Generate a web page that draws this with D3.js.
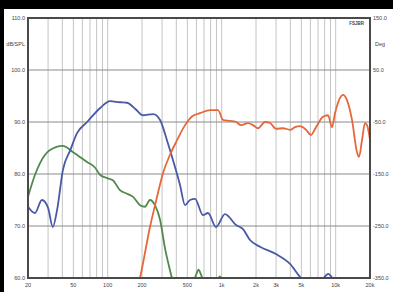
<!DOCTYPE html>
<html>
<head>
<meta charset="utf-8">
<script src="https://cdn.jsdelivr.net/npm/d3@7"></script>
<style>
  body { margin: 0; background: #000; }
  svg { display: block; }
  .tick-label { font-family: 'Liberation Sans', Arial, sans-serif; font-size: 5.5px; fill: #444; }
</style>
</head>
<body>
<div id="chart"></div>
<script>
// woofer (blue)
let wooferFreq = [20, 23, 26.5, 30, 33, 36, 40.5, 47, 54, 66, 86, 105, 128, 148, 175, 204, 250, 288, 331, 352, 431, 477, 527, 583, 686, 759, 891, 1069, 1336, 1538, 1771, 2168, 2994, 3977, 4864, 5500, 7000, 8000, 8600, 9200, 10000, 12000]
let wooferDb = [73.7, 72.5, 75.0, 73.5, 69.8, 73.1, 80.8, 84.6, 87.9, 90.0, 92.7, 94.0, 93.8, 93.7, 92.5, 91.3, 91.5, 90.4, 86.5, 84.6, 77.9, 74.0, 75.0, 75.2, 72.1, 72.5, 69.8, 72.3, 70.2, 69.4, 67.3, 66.0, 64.6, 62.7, 60.2, 59.0, 58.5, 60.2, 60.8, 60.2, 58.5, 57.0]

// bass / port (green)
let bassFreq = [20, 23, 25.5, 31.2, 40.5, 49.7, 66, 77, 86, 99, 111, 128, 148, 167, 192, 212, 235, 260, 288, 319, 352, 374, 420, 520, 600, 625, 660, 720, 900, 960, 1020, 1200]
let bassDb = [75.6, 79.8, 82.1, 84.6, 85.4, 84.2, 82.3, 81.3, 79.8, 79.2, 78.8, 76.9, 76.2, 75.6, 74.0, 73.7, 75.0, 74.0, 71.2, 65.6, 61.5, 59.2, 56.0, 56.5, 60.8, 61.6, 60.6, 58.0, 58.5, 60.3, 59.5, 56.0]

// tweeter (orange)
let tweeterFreq = [180, 192, 235, 271, 306, 352, 406, 477, 560, 646, 790, 928, 1028, 1182, 1336, 1478, 1702, 1882, 2084, 2400, 2656, 2994, 3452, 3977, 4396, 4864, 5492, 6072, 6718, 7740, 8570, 9280, 9860, 10480, 11600, 12570, 13900, 15380, 16020, 17020, 18070, 18840, 20000]
let tweeterDb = [57.5, 60.0, 69.8, 75.6, 80.2, 83.7, 86.5, 89.4, 91.2, 91.7, 92.3, 92.3, 90.4, 90.2, 90.0, 89.4, 89.8, 89.4, 88.8, 90.0, 89.8, 88.7, 88.8, 88.5, 89.0, 89.2, 88.5, 87.5, 89.0, 91.0, 91.3, 89.0, 91.7, 93.7, 95.2, 94.2, 90.4, 84.2, 83.3, 86.5, 89.8, 89.4, 86.5]

let leftTicks = [110, 100, 90, 80, 70, 60]
let leftLabels = ['110.0', '100.0', '90.0', '80.0', '70.0', '60.0']
let rightLabels = ['150.0', '50.0', '-50.0', '-150.0', '-250.0', '-350.0']
let xTicks = [20, 50, 100, 200, 500, 1000, 2000, 3000, 5000, 10000, 20000]
let xLabels = ['20', '50', '100', '200', '500', '1k', '2k', '3k', '5k', '10k', '20k']

let margin = { top: 18, left: 28, right: 23, bottom: 14 }
let width = 393 - margin.left - margin.right
let height = 292 - margin.top - margin.bottom

let root = d3.select('#chart')
  .append('svg')
  .attr('width', 393)
  .attr('height', 292)

root.append('rect').attr('width', 393).attr('height', 292).attr('fill', '#000')
root.append('rect').attr('x', 4).attr('y', 9).attr('width', 389).attr('height', 283).attr('fill', '#fff')

let svg = root.append('g')
  .attr('transform', 'translate(' + margin.left + ',' + margin.top + ')')

let xPositionScale = d3.scaleLog().domain([20, 20000]).range([0, width])
let yPositionScale = d3.scaleLinear().domain([60, 110]).range([height, 0])

// vertical log grid
let gridFreqs = []
;[10, 100, 1000, 10000].forEach(dec => {
  for (let m = 1; m < 10; m++) {
    let f = dec * m
    if (f > 20 && f < 20000) gridFreqs.push(f)
  }
})

svg.selectAll('.v-grid')
  .data(gridFreqs)
  .enter()
  .append('line')
  .attr('class', 'v-grid')
  .attr('x1', d => xPositionScale(d))
  .attr('x2', d => xPositionScale(d))
  .attr('y1', 0)
  .attr('y2', height)
  .attr('stroke', '#c4c4c4')
  .attr('stroke-width', 1)

svg.selectAll('.h-grid')
  .data(leftTicks.slice(1, -1))
  .enter()
  .append('line')
  .attr('class', 'h-grid')
  .attr('x1', 0)
  .attr('x2', width)
  .attr('y1', d => yPositionScale(d))
  .attr('y2', d => yPositionScale(d))
  .attr('stroke', '#8a8a8a')
  .attr('stroke-width', 1)

svg.append('clipPath')
  .attr('id', 'plot-clip')
  .append('rect')
  .attr('width', width)
  .attr('height', height)

let line = d3.line()
  .x(d => xPositionScale(d[0]))
  .y(d => yPositionScale(d[1]))
  .curve(d3.curveMonotoneX)

let series = [
  { freq: bassFreq, db: bassDb, color: '#4f8a4c' },
  { freq: wooferFreq, db: wooferDb, color: '#4a58a8' },
  { freq: tweeterFreq, db: tweeterDb, color: '#e5683d' }
]

svg.append('g')
  .attr('clip-path', 'url(#plot-clip)')
  .selectAll('path')
  .data(series)
  .enter()
  .append('path')
  .attr('d', d => line(d.freq.map((f, i) => [f, d.db[i]])))
  .attr('fill', 'none')
  .attr('stroke', d => d.color)
  .attr('stroke-width', 1.8)
  .attr('stroke-linejoin', 'round')

// frame
svg.append('rect')
  .attr('width', width)
  .attr('height', height)
  .attr('fill', 'none')
  .attr('stroke', '#4a4a4a')
  .attr('stroke-width', 2)

// left labels
svg.selectAll('.left-label')
  .data(leftTicks)
  .enter()
  .append('text')
  .attr('class', 'tick-label')
  .attr('x', -3)
  .attr('y', d => yPositionScale(d))
  .attr('dy', '0.35em')
  .attr('text-anchor', 'end')
  .text((d, i) => leftLabels[i])

svg.append('text')
  .attr('class', 'tick-label')
  .attr('x', -3)
  .attr('y', yPositionScale(105))
  .attr('dy', '0.35em')
  .attr('text-anchor', 'end')
  .text('dB/SPL')

// right labels
svg.selectAll('.right-label')
  .data(leftTicks)
  .enter()
  .append('text')
  .attr('class', 'tick-label')
  .attr('x', width + 3)
  .attr('y', d => yPositionScale(d))
  .attr('dy', '0.35em')
  .text((d, i) => rightLabels[i])

svg.append('text')
  .attr('class', 'tick-label')
  .attr('x', width + 5)
  .attr('y', yPositionScale(105))
  .attr('dy', '0.35em')
  .text('Deg')

svg.append('text')
  .attr('class', 'tick-label')
  .attr('x', width - 6)
  .attr('y', 5)
  .attr('dy', '0.35em')
  .attr('text-anchor', 'end')
  .attr('font-weight', 'bold')
  .style('font-size', '4.5px')
  .text('FSJBR')

// x labels
svg.selectAll('.x-label')
  .data(xTicks)
  .enter()
  .append('text')
  .attr('class', 'tick-label')
  .attr('x', d => xPositionScale(d))
  .attr('y', height + 9)
  .attr('text-anchor', 'middle')
  .text((d, i) => xLabels[i])
</script>
</body>
</html>
